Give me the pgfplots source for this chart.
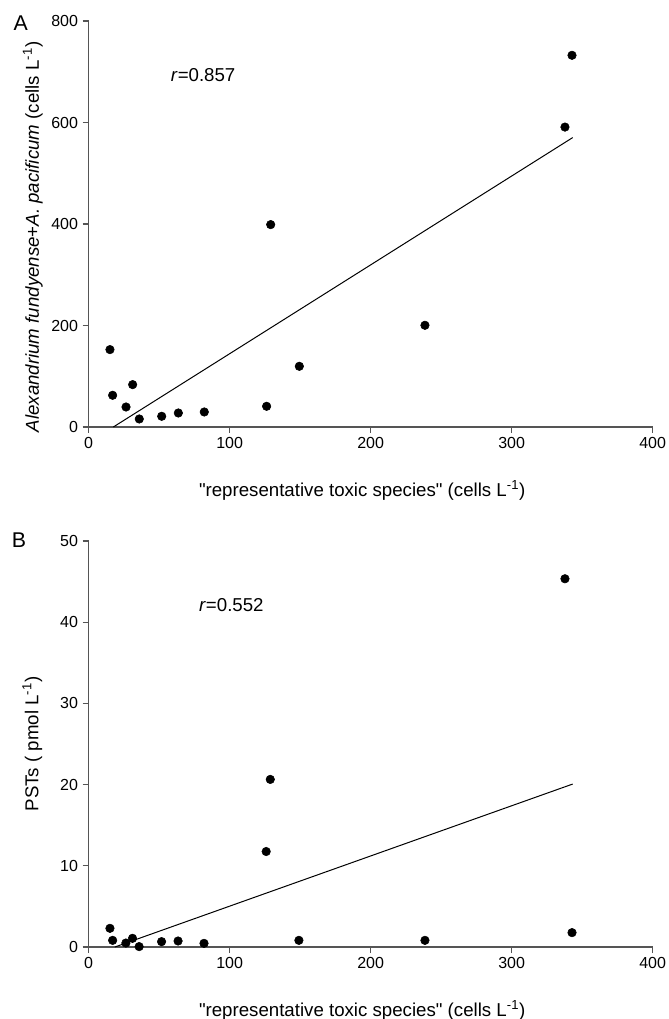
\documentclass[border=0pt]{standalone}
\usepackage{pgfplots}
\pgfplotsset{compat=1.18}
\usepackage{fontspec}
\setmainfont{Liberation Sans}
\definecolor{axgray}{RGB}{85,85,85}

% 1 px of the reference = 0.75pt
\pgfplotsset{
  panel/.style={
    width=423pt,height=304.5pt,scale only axis,
    axis x line*=bottom, axis y line*=left,
    axis line style={draw=axgray,line width=0.8pt},
    tick align=outside, major tick length=4.5pt,
    tick style={draw=axgray,line width=0.8pt},
    xmin=0,xmax=400,xtick={0,100,200,300,400},
    ticklabel style={font=\fontsize{12}{14}\selectfont},
    label style={font=\fontsize{14}{16}\selectfont},
    /pgf/number format/assume math mode=true,
    clip=false,
    xlabel={\textquotedbl representative toxic species\textquotedbl\ (cells L\textsuperscript{-1})},
    xlabel style={at={(axis description cs:0.485,-0.157)},anchor=center},
  },
  pts/.style={only marks,mark=*,mark size=3.2pt,black},
  fit/.style={black,line width=0.75pt,no marks},
}

\begin{document}
\begin{tikzpicture}
\useasboundingbox (-66.5pt,-444pt) rectangle (435.2pt,320.25pt);

% panel A
\begin{axis}[panel,at={(0pt,0pt)},anchor=south west,
  ymin=0,ymax=800,ytick={0,200,400,600,800},
  ylabel={\textit{Alexandrium fundyense}+\textit{A. pacificum} (cells L\textsuperscript{-1})},
  ylabel style={at={(axis description cs:-0.099,0.468)},anchor=center}]
\addplot[pts] coordinates {
  (15.1,152.5) (17.0,62.5) (26.5,39.4) (31.2,83.5) (35.9,15.8)
  (51.8,21.1) (63.6,27.6) (82.0,29.6) (126.2,40.8) (129.1,398.8)
  (149.4,119.6) (238.5,200.4) (337.8,591) (342.8,732.4)};
\addplot[fit] coordinates {(17.5,0) (343.3,570.3)};
\node[anchor=west,font=\fontsize{14}{16}\selectfont] at (axis cs:55,693) {\textit{r}=0.857};
\node[font=\fontsize{16}{18}\selectfont] at (axis description cs:-0.1206,0.995) {A};
\end{axis}

% panel B
\begin{axis}[panel,at={(0pt,-390pt)},anchor=south west,
  ymin=0,ymax=50,ytick={0,10,20,30,40,50},
  ylabel={PSTs ( pmol L\textsuperscript{-1})},
  ylabel style={at={(axis description cs:-0.1,0.5)},anchor=center}]
\addplot[pts] coordinates {
  (15.1,2.3) (17.0,0.82) (26.4,0.49) (31.1,1.07) (35.8,0.05)
  (51.7,0.66) (63.4,0.74) (81.8,0.45) (125.9,11.76) (128.8,20.64)
  (149.1,0.82) (238.5,0.82) (337.8,45.35) (342.8,1.77)};
\addplot[fit] coordinates {(18.6,0) (343.3,20.07)};
\node[anchor=west,font=\fontsize{14}{16}\selectfont] at (axis cs:75,42.1) {\textit{r}=0.552};
\node[font=\fontsize{16}{18}\selectfont] at (axis description cs:-0.1236,1.002) {B};
\end{axis}
\end{tikzpicture}
\end{document}
